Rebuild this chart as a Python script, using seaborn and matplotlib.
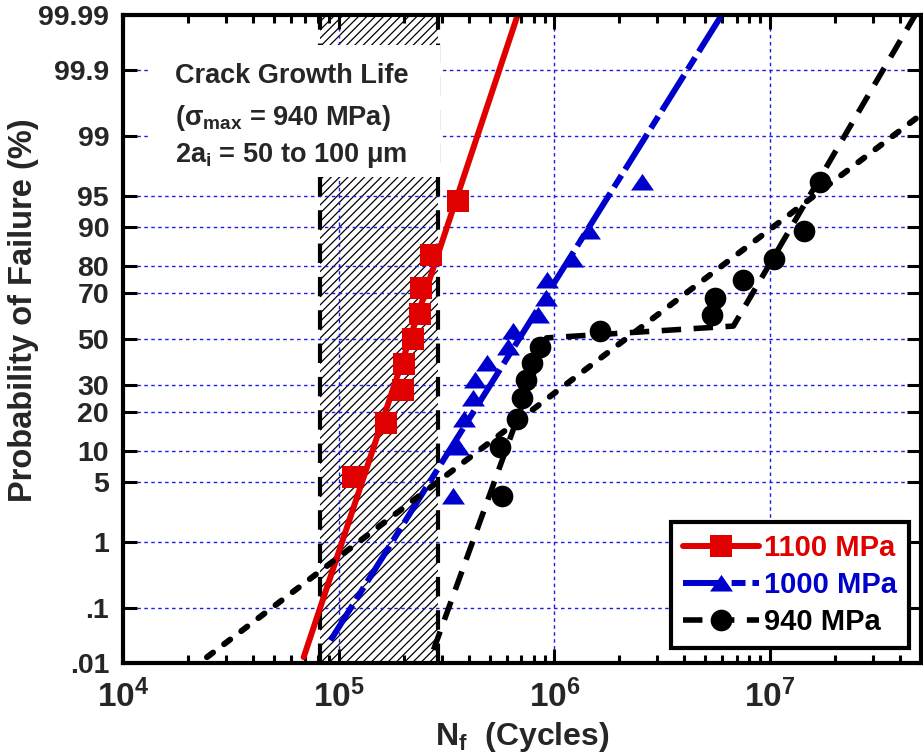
import math
import numpy as np
import pandas as pd
import seaborn as sns
import matplotlib
matplotlib.use("Agg")
import matplotlib.pyplot as plt
from matplotlib import font_manager
from matplotlib.lines import Line2D
from matplotlib.patches import Rectangle
from matplotlib.ticker import FixedLocator, LogLocator, NullFormatter, FixedFormatter

# ---------------- data ----------------
prob_ticks = [0.01, 0.1, 1, 5, 10, 20, 30, 50, 70, 80, 90, 95, 99, 99.9, 99.99]
prob_labels = ['.01', '.1', '1', '5', '10', '20', '30', '50', '70', '80', '90', '95', '99', '99.9', '99.99']
x_major = [1e4, 1e5, 1e6, 1e7]

red_n = [1.17e5, 1.66e5, 1.99e5, 2.0e5, 2.22e5, 2.39e5, 2.40e5, 2.69e5, 3.56e5]
red_p = [5.6, 16.7, 27.8, 38.9, 50.0, 61.1, 72.2, 83.3, 94.4]

blue_n = [3.4e5, 3.57e5, 3.79e5, 4.2e5, 4.27e5, 4.86e5, 6.12e5, 6.4e5, 8.37e5, 9.12e5, 9.25e5, 1.20e6, 1.44e6, 2.54e6]
blue_p = [3.6, 10.7, 17.9, 25.0, 32.1, 39.3, 46.4, 53.6, 60.7, 67.9, 75.0, 82.1, 89.3, 96.4]

black_n = [5.7e5, 5.61e5, 6.7e5, 7.06e5, 7.4e5, 7.86e5, 8.59e5, 1.63e6, 5.35e6, 5.54e6, 7.5e6, 1.04e7, 1.44e7, 1.70e7]
black_p = [3.6, 10.7, 17.9, 25.0, 32.1, 39.3, 46.4, 53.6, 60.7, 67.9, 75.0, 82.1, 89.3, 96.4]

red_fit_n = [6.88e4, 6.75e5]
red_fit_p = [0.013, 99.99]
blue_fit_n = [9.16e4, 5.96e6]
blue_fit_p = [0.027, 99.99]
black_fit1_n = [2.45e4, 5.0e7]
black_fit1_p = [0.013, 99.5]
black_fit2_n = [2.75e5, 9.18e5, 6.75e6, 4.7e7]
black_fit2_p = [0.018, 50.5, 55.9, 99.99]

crack_lo, crack_hi = 8.2e4, 2.9e5
labels = ['1100 MPa', '1000 MPa', '940 MPa']

# ---------------- style ----------------
sns.set_style('ticks')
names = {f.name for f in font_manager.fontManager.ttflist}
narrow = 'Liberation Sans Narrow' if 'Liberation Sans Narrow' in names else 'Liberation Sans'
plt.rcParams['font.family'] = ['Liberation Sans', 'DejaVu Sans']
plt.rcParams['font.weight'] = 'bold'
plt.rcParams['mathtext.fontset'] = 'custom'
plt.rcParams['mathtext.rm'] = 'Liberation Sans:bold'
plt.rcParams['mathtext.it'] = 'Liberation Sans:bold'
plt.rcParams['mathtext.bf'] = narrow + ':bold'
plt.rcParams['lines.scale_dashes'] = False
plt.rcParams['hatch.linewidth'] = 0.9

RED = '#E00000'
BLUE = '#0000CC'
BLACK = '#000000'

# normal-probability scale
def _fwd(p):
    p = np.asarray(p, dtype=float)
    q = np.clip(p / 100.0, 1e-12, 1 - 1e-12)
    flat = q.ravel()
    from statistics import NormalDist
    nd = NormalDist()
    out = np.array([nd.inv_cdf(v) if np.isfinite(v) else np.nan for v in flat])
    return out.reshape(q.shape)

def _inv(z):
    z = np.asarray(z, dtype=float)
    flat = z.ravel()
    out = np.array([50.0 * (1 + math.erf(v / math.sqrt(2))) if np.isfinite(v) else np.nan for v in flat])
    return out.reshape(z.shape)

fig = plt.figure(figsize=(9.23, 7.53), dpi=100)
ax = fig.add_axes([123 / 923, 90 / 753, 798 / 923, 648 / 753])
ax.set_xscale('log')
ax.set_yscale('function', functions=(_fwd, _inv))
ax.set_xlim(1e4, 5e7)
ax.set_ylim(0.01, 99.99)

# crack growth band
ax.axvspan(crack_lo, crack_hi, facecolor='white', edgecolor='black', hatch='////', lw=0, zorder=0.2)
for xv in (crack_lo, crack_hi):
    ax.axvline(xv, color='black', lw=3, ls=(0, (14, 10)), zorder=0.8)

# text box
ax.add_patch(Rectangle((0.031, 0.75), 0.366, 0.204, transform=ax.transAxes,
                       facecolor='white', edgecolor='none', zorder=1))
tkw = dict(transform=ax.transAxes, fontsize=19.5, fontweight='bold', va='baseline', ha='left', zorder=1.1)
ax.text(0.065, 0.895, 'Crack Growth Life', **tkw)
ax.text(0.065, 0.830, '(σ$_{\\mathrm{max}}$ = 940 MPa)', **tkw)
ax.text(0.065, 0.773, '2a$_{\\mathrm{i}}$ = 50 to 100 μm', **tkw)

# fit lines
def fitline(n, p, **kw):
    df = pd.DataFrame({'N': n, 'P': p})
    sns.lineplot(data=df, x='N', y='P', ax=ax, estimator=None, sort=False, legend=False, **kw)

fitline(red_fit_n, red_fit_p, color=RED, lw=4.3, zorder=2)
fitline(blue_fit_n, blue_fit_p, color=BLUE, lw=4.3, zorder=2)
fitline(black_fit1_n, black_fit1_p, color=BLACK, lw=4.3, zorder=2)
fitline(black_fit2_n, black_fit2_p, color=BLACK, lw=4.0, zorder=2)
lines = ax.get_lines()[-4:]
lines[1].set_dashes((30, 5, 10, 5))
lines[2].set_dashes((5.5, 10)); lines[2].set_dash_capstyle('round')
lines[3].set_dashes((14, 9))

# data points
tri = [(-1, -0.7), (1, -0.7), (0, 0.75)]
sns.scatterplot(x=red_n, y=red_p, ax=ax, marker='s', s=16.5 ** 2, color=RED, linewidth=0, zorder=3, legend=False)
sns.scatterplot(x=blue_n, y=blue_p, ax=ax, marker=tri, s=16.5 ** 2, color=BLUE, linewidth=0, zorder=3, legend=False)
sns.scatterplot(x=black_n, y=black_p, ax=ax, marker='o', s=15.6 ** 2, color=BLACK, linewidth=0, zorder=3, legend=False)

# axes formatting
ax.yaxis.set_major_locator(FixedLocator(prob_ticks))
ax.yaxis.set_major_formatter(FixedFormatter(prob_labels))
ax.yaxis.set_minor_locator(FixedLocator([]))
ax.xaxis.set_major_locator(FixedLocator(x_major))
ax.xaxis.set_major_formatter(FixedFormatter([r'$\mathbf{10^{%d}}$' % int(round(math.log10(v))) for v in x_major]))
ax.xaxis.set_minor_locator(LogLocator(base=10, subs=np.arange(2, 10)))
ax.xaxis.set_minor_formatter(NullFormatter())

ax.tick_params(which='both', direction='in', top=True, right=True, width=2.2, color='black')
ax.tick_params(which='major', length=10)
ax.tick_params(which='minor', length=6)
ax.tick_params(axis='y', labelsize=20.5, pad=10)
ax.tick_params(axis='x', labelsize=24, pad=12)
for lab in ax.get_yticklabels():
    lab.set_fontweight('bold')
for sp in ax.spines.values():
    sp.set_linewidth(3)
    sp.set_color('black')

ax.set_axisbelow(True)
ax.grid(True, which='major', axis='both', color='#1a1aee', lw=1.0, ls=(0, (2.5, 2.5)))

ax.set_ylabel('Probability of Failure (%)', fontsize=23.5, fontweight='bold')
ax.set_xlabel(r'$\mathbf{N_{f}}$  (Cycles)', fontsize=23, fontweight='bold', family=[narrow, 'Liberation Sans'], labelpad=4)
ax.yaxis.set_label_coords(-0.105, 0.545)

# legend
handles = [
    Line2D([], [], color=RED, lw=4.3, marker='s', markersize=16.5, markeredgewidth=0),
    Line2D([], [], color=BLUE, lw=4.3, marker=tri, markersize=16.5, markeredgewidth=0, dashes=(30, 5, 10, 5)),
    Line2D([], [], color=BLACK, lw=4.0, marker='o', markersize=15.6, markeredgewidth=0, dashes=(14, 9)),
]
leg = ax.legend(handles, labels, loc='lower right', bbox_to_anchor=(0.985, 0.023), borderaxespad=0,
                prop={'weight': 'bold', 'size': 21}, handlelength=2.6, handletextpad=0.2,
                labelspacing=0.32, borderpad=0.4, frameon=True, fancybox=False, numpoints=1)
leg.get_frame().set_edgecolor('black')
leg.get_frame().set_linewidth(3)
leg.get_frame().set_facecolor('white')
leg.get_frame().set_alpha(1)
leg.set_zorder(5)
for t, c in zip(leg.get_texts(), [RED, BLUE, BLACK]):
    t.set_color(c)

fig.savefig('out.png', dpi=100)
